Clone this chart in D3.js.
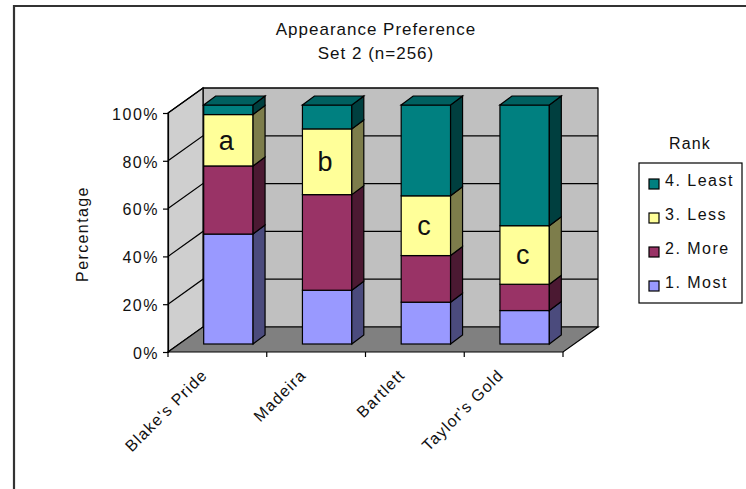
<!DOCTYPE html>
<html>
<head>
<meta charset="utf-8">
<script src="https://cdn.jsdelivr.net/npm/d3@7"></script>
<style>
  body { margin: 0; background: #fff; }
  text { font-family: "Liberation Sans", Arial, sans-serif; fill: #111; }
</style>
</head>
<body>
<svg id="chart" width="746" height="489"></svg>
<script>
// Appearance preference ranks (percent of panel) per pear variety
const categories = ["Blake's Pride", "Madeira", "Bartlett", "Taylor's Gold"];
const ranks = ["1. Most", "2. More", "3. Less", "4. Least"];
const most  = [46, 22.5, 17.5, 14];
const more  = [28.5, 40, 19.5, 11];
const less  = [21.5, 27.5, 25, 24.5];
const least = [4, 10, 38, 50.5];
const groupLetters = ["a", "b", "c", "c"];
const yTicks = [0, 20, 40, 60, 80, 100];
const titleLines = ["Appearance Preference", "Set 2 (n=256)"];

// Fill colours: front faces; side/top faces are darker shades
const rankColors = ["#9999ff", "#993366", "#ffff99", "#008080"];

const table = categories.map((c, i) => ({
  category: c,
  "1. Most": most[i], "2. More": more[i], "3. Less": less[i], "4. Least": least[i]
}));
const series = d3.stack().keys(ranks)(table);

const svg = d3.select("#chart");

// outer frame (top and left edges)
svg.append("path").attr("d", "M14,489 L14,6 L746,6")
  .attr("fill", "none").attr("stroke", "#333").attr("stroke-width", 2.2);

// titles
svg.selectAll("text.title").data(titleLines).join("text")
  .attr("class", "title")
  .attr("x", 376).attr("y", (d, i) => 35 + i * 23.5)
  .attr("text-anchor", "middle")
  .attr("font-size", 17).attr("letter-spacing", 1)
  .text(d => d);

// scales
const x = d3.scaleBand().domain(categories).range([168, 563])
  .paddingInner(0.5).paddingOuter(0.25);
const y = d3.scaleLinear().domain([0, 100]).range([352, 113]);
const x0 = x.range()[0], x1 = x.range()[1];

// 3D depth offsets: plot depth, and bar front/back planes
const wallD = [35, -25];
const barF = [11, -8];
const barB = [23, -17];
const pts = arr => arr.map(p => p.join(",")).join(" ");

const g = svg.append("g");

// back wall
g.append("polygon")
  .attr("points", pts([
    [x0 + wallD[0], y(100) + wallD[1]], [x1 + wallD[0], y(100) + wallD[1]],
    [x1 + wallD[0], y(0) + wallD[1]], [x0 + wallD[0], y(0) + wallD[1]]]))
  .attr("fill", "#c0c0c0").attr("stroke", "#000").attr("stroke-width", 1.2);

// side wall
g.append("polygon")
  .attr("points", pts([
    [x0, y(100)], [x0 + wallD[0], y(100) + wallD[1]],
    [x0 + wallD[0], y(0) + wallD[1]], [x0, y(0)]]))
  .attr("fill", "#cfcfcf").attr("stroke", "#000").attr("stroke-width", 1.2);

// floor
g.append("polygon")
  .attr("points", pts([
    [x0, y(0)], [x1, y(0)], [x1 + wallD[0], y(0) + wallD[1]], [x0 + wallD[0], y(0) + wallD[1]]]))
  .attr("fill", "#808080").attr("stroke", "#000").attr("stroke-width", 1.2);

// gridlines across side and back walls
g.selectAll("path.grid").data(yTicks.filter(t => t > 0)).join("path")
  .attr("class", "grid")
  .attr("d", t => `M${x0},${y(t)} L${x0 + wallD[0]},${y(t) + wallD[1]} L${x1 + wallD[0]},${y(t) + wallD[1]}`)
  .attr("fill", "none").attr("stroke", "#000").attr("stroke-width", 1.2);

// y axis on the front plane
const yAxis = d3.axisLeft(y).tickValues(yTicks).tickSize(5).tickFormat(d => d + "%");
const ya = g.append("g").attr("transform", `translate(${x0},0)`).call(yAxis);
ya.select(".domain").attr("stroke", "#000").attr("stroke-width", 1.2);
ya.selectAll(".tick line").attr("stroke", "#000").attr("stroke-width", 1.2);
ya.selectAll(".tick text")
  .attr("x", -9).attr("dy", "0.39em")
  .attr("font-size", 16).attr("letter-spacing", 1.5)
  .attr("font-family", "Liberation Sans, Arial, sans-serif").attr("fill", "#111");

// category ticks at band boundaries along the front floor edge
const catBounds = d3.range(categories.length + 1).map(i => x0 + i * x.step());
g.selectAll("line.xtick").data(catBounds).join("line")
  .attr("class", "xtick")
  .attr("x1", d => d).attr("x2", d => d)
  .attr("y1", y(0)).attr("y2", y(0) + 5)
  .attr("stroke", "#000").attr("stroke-width", 1.2);

// x labels rotated 45 degrees
g.selectAll("text.xlab").data(categories).join("text")
  .attr("class", "xlab")
  .attr("transform", c => `translate(${x(c) + x.bandwidth() / 2 - 9},${y(0) + 24}) rotate(-45)`)
  .attr("text-anchor", "end")
  .attr("font-size", 16).attr("letter-spacing", 1.2)
  .text(c => c);

// y axis title
svg.append("text")
  .attr("transform", "translate(88,234) rotate(-90)")
  .attr("text-anchor", "middle")
  .attr("font-size", 16).attr("letter-spacing", 1.4)
  .text("Percentage");

// stacked 3D columns
const shade = (c, k) => d3.color(c).darker(k).formatHex();
const bars = g.append("g");
series.forEach((s, si) => {
  const col = rankColors[si];
  s.forEach(d => {
    const cat = d.data.category;
    const xl = x(cat), xr = x(cat) + x.bandwidth();
    const yt = y(d[1]), yb = y(d[0]);
    // front face
    bars.append("rect")
      .attr("x", xl + barF[0]).attr("y", yt + barF[1])
      .attr("width", x.bandwidth()).attr("height", yb - yt)
      .attr("fill", col).attr("stroke", "#000").attr("stroke-width", 1.2);
    // right side face
    bars.append("polygon")
      .attr("points", pts([
        [xr + barF[0], yt + barF[1]], [xr + barB[0], yt + barB[1]],
        [xr + barB[0], yb + barB[1]], [xr + barF[0], yb + barF[1]]]))
      .attr("fill", shade(col, 2)).attr("stroke", "#000").attr("stroke-width", 1.2);
    // top face on the uppermost segment
    if (si === series.length - 1) {
      bars.append("polygon")
        .attr("points", pts([
          [xl + barF[0], yt + barF[1]], [xr + barF[0], yt + barF[1]],
          [xr + barB[0], yt + barB[1]], [xl + barB[0], yt + barB[1]]]))
        .attr("fill", shade(col, 0.8)).attr("stroke", "#000").attr("stroke-width", 1.2);
    }
  });
});

// significance letters inside the "3. Less" segments
const lessSeries = series[2];
g.selectAll("text.letter").data(lessSeries).join("text")
  .attr("class", "letter")
  .attr("x", d => x(d.data.category) + barF[0] + x.bandwidth() / 2 - 2)
  .attr("y", d => y((d[0] + d[1]) / 2) + barF[1])
  .attr("dy", "0.35em")
  .attr("text-anchor", "middle")
  .attr("font-size", 27)
  .text((d, i) => groupLetters[i]);

// legend
const lg = svg.append("g");
lg.append("text").attr("x", 690).attr("y", 149).attr("text-anchor", "middle")
  .attr("font-size", 16).attr("letter-spacing", 1.2).text("Rank");
lg.append("rect").attr("x", 639).attr("y", 163).attr("width", 103).attr("height", 140)
  .attr("fill", "#fff").attr("stroke", "#000").attr("stroke-width", 1.2);
const legendOrder = ranks.map((r, i) => ({ r, c: rankColors[i] })).reverse();
const items = lg.selectAll("g.item").data(legendOrder).join("g")
  .attr("class", "item")
  .attr("transform", (d, i) => `translate(649,${179 + i * 34})`);
items.append("rect").attr("width", 10).attr("height", 10)
  .attr("fill", d => d.c).attr("stroke", "#000").attr("stroke-width", 1.2);
items.append("text").attr("x", 16).attr("y", 7)
  .attr("font-size", 16).attr("letter-spacing", 1.5)
  .text(d => d.r);
</script>
</body>
</html>
